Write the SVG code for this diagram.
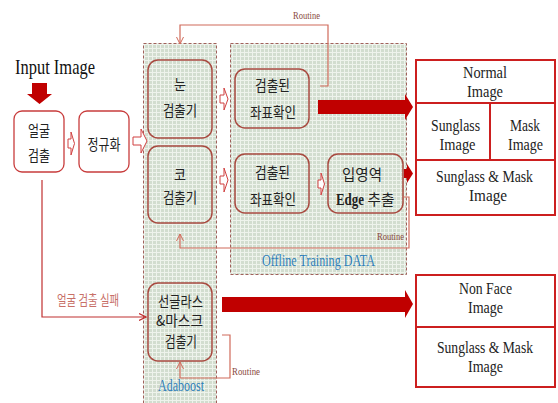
<svg xmlns="http://www.w3.org/2000/svg" width="558" height="403" viewBox="0 0 558 403">
<defs>
<pattern id="grid" width="4" height="4" patternUnits="userSpaceOnUse">
<rect width="4" height="4" fill="#d2ddcf"/>
<path d="M0,0.5 H4 M0.5,0 V4" stroke="#eef3ec" stroke-width="1"/>
</pattern>
<marker id="open" viewBox="0 0 8 8" refX="7" refY="4" markerWidth="8" markerHeight="8" orient="auto" markerUnits="userSpaceOnUse">
<path d="M0,0.5 L7,4 L0,7.5" fill="none" stroke="#d06a5a" stroke-width="1"/>
</marker>
<marker id="fail" viewBox="0 0 8 8" refX="7" refY="4" markerWidth="8" markerHeight="8" orient="auto" markerUnits="userSpaceOnUse">
<path d="M0,0.5 L7,4 L0,7.5" fill="none" stroke="#c03030" stroke-width="1.2"/>
</marker>
</defs>
<style>
.col{fill:url(#grid);stroke:#a0605a;stroke-width:1;stroke-dasharray:3 2}
.rb{fill:none;stroke:#a84a40;stroke-width:1.5}
.lb{fill:#fff;stroke:#c83c3c;stroke-width:1.3}
.ob{fill:#fff;stroke:#cc1f1f;stroke-width:2}
.kr{font-family:"Noto Sans CJK KR","Noto Sans CJK SC",sans-serif;font-size:15px;fill:#222;text-anchor:middle}
.en{font-family:"Liberation Serif",serif;font-size:16px;fill:#222;text-anchor:middle}
.rt{font-family:"Liberation Serif",serif;font-size:11px;fill:#8a4a40}
.bl{font-family:"Liberation Serif",serif;font-size:17px;fill:#2e7fba}
.big{fill:#c00000}
.hol{fill:#fff;stroke:#d04040;stroke-width:1}
.route{fill:none;stroke:#d06a5a;stroke-width:1.2}
</style>

<g id="columns">
<rect class="col" x="143.5" y="43.5" width="73" height="362"/>
<rect class="col" x="230.5" y="43.5" width="176" height="231"/>
</g>

<g id="input">
<text x="15" y="74" font-family="Liberation Serif, serif" font-size="22" fill="#111" textLength="80" lengthAdjust="spacingAndGlyphs">Input Image</text>
<polygon class="big" points="32,83 47,83 47,94 52,94 39.5,104 27,94 32,94"/>
</g>

<g id="face-detect">
<rect class="lb" x="14" y="111" width="50" height="61" rx="8"/>
<text class="kr" x="39" y="136" textLength="22" lengthAdjust="spacingAndGlyphs">얼굴</text>
<text class="kr" x="39" y="161" textLength="22" lengthAdjust="spacingAndGlyphs">검출</text>
</g>

<g id="normalize">
<rect class="lb" x="79" y="111" width="50" height="61" rx="8"/>
<text class="kr" x="104" y="150" textLength="33" lengthAdjust="spacingAndGlyphs">정규화</text>
</g>

<g id="eye-detector">
<rect class="rb" x="148" y="60" width="64" height="78" rx="10"/>
<text class="kr" x="180" y="90" textLength="12" lengthAdjust="spacingAndGlyphs">눈</text>
<text class="kr" x="180" y="116" textLength="34" lengthAdjust="spacingAndGlyphs">검출기</text>
</g>

<g id="nose-detector">
<rect class="rb" x="148" y="146" width="64" height="77" rx="10"/>
<text class="kr" x="180" y="180" textLength="12" lengthAdjust="spacingAndGlyphs">코</text>
<text class="kr" x="180" y="203" textLength="34" lengthAdjust="spacingAndGlyphs">검출기</text>
</g>

<g id="sunglass-mask-detector">
<rect class="rb" x="148" y="283" width="64" height="78" rx="10"/>
<text class="kr" x="180.5" y="307" textLength="45" lengthAdjust="spacingAndGlyphs">선글라스</text>
<text class="kr" x="179.5" y="326" textLength="47" lengthAdjust="spacingAndGlyphs">&amp;마스크</text>
<text class="kr" x="181" y="347" textLength="32" lengthAdjust="spacingAndGlyphs">검출기</text>
</g>

<g id="coord-check-1">
<rect class="rb" x="235" y="69" width="74" height="59" rx="10"/>
<text class="kr" x="272.5" y="91" textLength="35" lengthAdjust="spacingAndGlyphs">검출된</text>
<text class="kr" x="273" y="118" textLength="46" lengthAdjust="spacingAndGlyphs">좌표확인</text>
</g>

<g id="coord-check-2">
<rect class="rb" x="235" y="154" width="74" height="59" rx="10"/>
<text class="kr" x="272.5" y="178" textLength="35" lengthAdjust="spacingAndGlyphs">검출된</text>
<text class="kr" x="273" y="205" textLength="46" lengthAdjust="spacingAndGlyphs">좌표확인</text>
</g>

<g id="edge-extract">
<rect class="rb" x="328" y="154" width="75" height="59" rx="10"/>
<text class="kr" x="362" y="180" textLength="40" lengthAdjust="spacingAndGlyphs">입영역</text>
<text x="350" y="205" font-family="Liberation Serif, serif" font-size="16" font-weight="bold" fill="#222" text-anchor="middle" textLength="28" lengthAdjust="spacingAndGlyphs">Edge</text>
<text class="kr" x="381" y="205" textLength="27" lengthAdjust="spacingAndGlyphs">추출</text>
</g>

<g id="output-1">
<rect class="ob" x="416" y="60" width="139" height="155"/>
<path d="M416,103 H555 M416,160 H555 M490,103 V160" stroke="#cc1f1f" stroke-width="2" fill="none"/>
<text class="en" x="485" y="78" textLength="44" lengthAdjust="spacingAndGlyphs">Normal</text>
<text class="en" x="485" y="97" textLength="36" lengthAdjust="spacingAndGlyphs">Image</text>
<text class="en" x="455.5" y="131" textLength="49" lengthAdjust="spacingAndGlyphs">Sunglass</text>
<text class="en" x="457.5" y="150" textLength="36" lengthAdjust="spacingAndGlyphs">Image</text>
<text class="en" x="525" y="131" textLength="30" lengthAdjust="spacingAndGlyphs">Mask</text>
<text class="en" x="525.5" y="150" textLength="35" lengthAdjust="spacingAndGlyphs">Image</text>
<text class="en" x="484.5" y="182" textLength="97" lengthAdjust="spacingAndGlyphs">Sunglass &amp; Mask</text>
<text class="en" x="488" y="201" textLength="38" lengthAdjust="spacingAndGlyphs">Image</text>
</g>

<g id="output-2">
<rect class="ob" x="416" y="275" width="139" height="112"/>
<path d="M416,327 H555" stroke="#cc1f1f" stroke-width="2"/>
<text class="en" x="485.5" y="294" textLength="53" lengthAdjust="spacingAndGlyphs">Non Face</text>
<text class="en" x="485.5" y="313" textLength="35" lengthAdjust="spacingAndGlyphs">Image</text>
<text class="en" x="485" y="353" textLength="96" lengthAdjust="spacingAndGlyphs">Sunglass &amp; Mask</text>
<text class="en" x="485.5" y="372" textLength="35" lengthAdjust="spacingAndGlyphs">Image</text>
</g>

<g id="connectors">
<polygon class="hol" points="68,139 71,139 71,132 74.5,143.5 71,155 71,148 68,148"/>
<polygon class="hol" points="133,137 141,137 141,129 147,141 141,153 141,145 133,145"/>
<polygon class="hol" points="220,95 224,95 224,88 228,99 224,110 224,103 220,103"/>
<polygon class="hol" points="220,176 224,176 224,168 228,180 224,192 224,184 220,184"/>
<polygon class="hol" points="318,180 321,180 321,173 324.5,184 321,195 321,188 318,188"/>
<polygon class="big" points="318,100 405,100 405,94 413,107 405,120 405,114 318,114"/>
<polygon class="big" points="222,297 405,297 405,290 413,304 405,318 405,312 222,312"/>
<polygon class="big" points="404,169 407,169 407,164 413,173.5 407,183 407,178 404,178"/>
<path class="route" d="M320,86 H328 V25 H180 V44" marker-end="url(#open)"/>
<path class="route" d="M403,197 H409 V248 H180 V234" marker-end="url(#open)"/>
<path class="route" d="M222,335 H230 V378 H180 V362" marker-end="url(#open)"/>
<path d="M42,180 V317 H146" fill="none" stroke="#c03030" stroke-width="1.2" marker-end="url(#fail)"/>
<text class="rt" x="293" y="19" textLength="27" lengthAdjust="spacingAndGlyphs">Routine</text>
<text class="rt" x="377" y="240" textLength="27" lengthAdjust="spacingAndGlyphs">Routine</text>
<text class="rt" x="232" y="375" textLength="28" lengthAdjust="spacingAndGlyphs">Routine</text>
<text x="57" y="305" font-family="Noto Sans CJK KR, sans-serif" font-size="14" fill="#c87068" textLength="62" lengthAdjust="spacingAndGlyphs">얼굴 검출 실패</text>
<text class="bl" x="262" y="266" textLength="113" lengthAdjust="spacingAndGlyphs">Offline Training DATA</text>
<text class="bl" x="158" y="391" font-size="15" textLength="46" lengthAdjust="spacingAndGlyphs">Adaboost</text>
</g>
</svg>
